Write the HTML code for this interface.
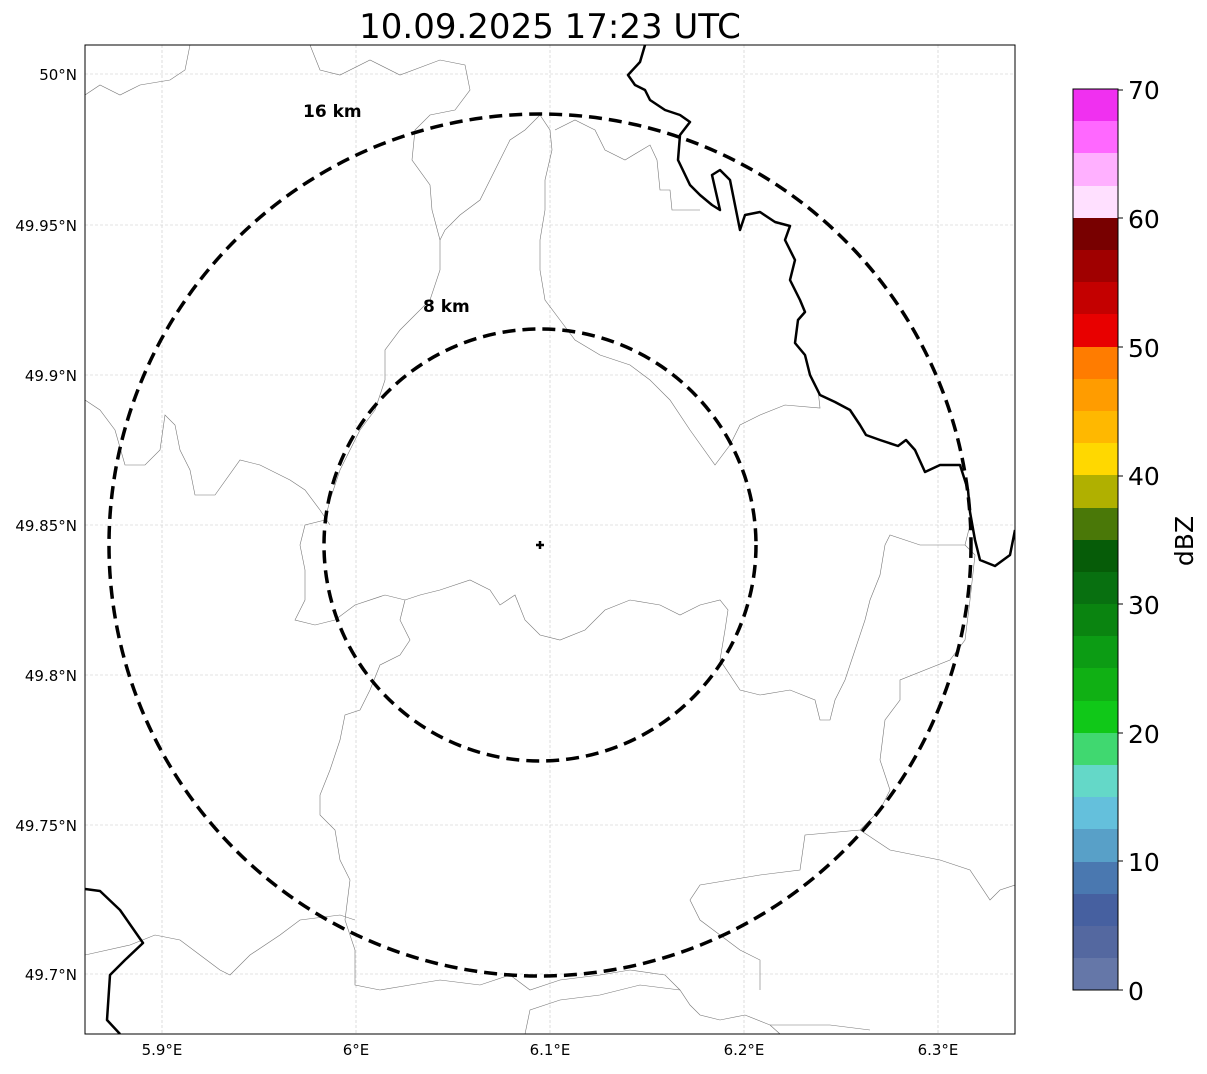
<!DOCTYPE html>
<html><head><style>
body{margin:0;background:#fff;}
svg text{font-family:"DejaVu Sans","Liberation Sans",sans-serif;}
</style></head><body>
<svg width="1207" height="1069" viewBox="0 0 1207 1069" xmlns="http://www.w3.org/2000/svg">
<rect width="1207" height="1069" fill="#fff"/>
<text x="550" y="38" font-size="34" text-anchor="middle">10.09.2025 17:23 UTC</text>
<defs><clipPath id="c"><rect x="85" y="45" width="930" height="989"/></clipPath></defs>
<g clip-path="url(#c)">
<g stroke="#c8c8c8" stroke-width="0.6" stroke-dasharray="3,2">
<line x1="162" y1="45" x2="162" y2="1034"/><line x1="356" y1="45" x2="356" y2="1034"/><line x1="550" y1="45" x2="550" y2="1034"/><line x1="744" y1="45" x2="744" y2="1034"/><line x1="938" y1="45" x2="938" y2="1034"/>
<line x1="85" y1="74" x2="1015" y2="74"/><line x1="85" y1="225" x2="1015" y2="225"/><line x1="85" y1="375" x2="1015" y2="375"/><line x1="85" y1="525" x2="1015" y2="525"/><line x1="85" y1="675" x2="1015" y2="675"/><line x1="85" y1="825" x2="1015" y2="825"/><line x1="85" y1="974" x2="1015" y2="974"/>
</g>
<g fill="none" stroke="#777" stroke-width="0.6">
<polyline points="85,95 100,85 120,95 140,85 170,80 185,70 190,45"/>
<polyline points="310,45 320,70 340,75 370,60 400,75 440,60 465,65 470,90 455,110 430,115 415,130 412,160 430,185 432,210 440,240 440,270 430,300 400,330 385,350 385,380 375,410 360,430 340,470 330,500 325,520 305,525 300,545 305,570 305,600 295,620 315,625 335,620 355,605 385,595 405,600 420,595 440,590 470,580 490,590 500,605 515,595 525,620 540,635 560,640 585,630 605,610 630,600 660,605 680,615 700,605 720,600 728,610 725,630 720,660 740,690 760,695 790,690 815,700 820,720 830,720 835,700 845,680 855,650 865,620 870,600 880,575 885,545 890,535 920,545 965,545 970,525"/>
<polyline points="540,115 525,130 510,140 500,160 490,180 480,200 460,215 445,230 440,240"/>
<polyline points="540,115 550,130 552,150 545,180 545,210 540,240 540,270 545,300 560,320 575,340 600,355 630,365 650,380 670,400 690,430 715,465 730,445 740,425 760,415 785,405 820,408 818,390"/>
<polyline points="555,130 575,120 595,130 605,150 625,160 650,145 657,160 660,190 670,190 672,210 700,210"/>
<polyline points="85,400 100,410 115,430 125,465 145,465 160,450 165,415 175,425 180,450 190,470 195,495 215,495 240,460 260,465 290,480 305,490 320,510 330,525"/>
<polyline points="405,600 400,620 410,640 400,655 380,665 370,690 360,710 345,715 340,740 330,770 320,795 320,815 335,830 340,860 350,880 345,920 355,950 355,985 380,990 410,985 440,980 480,985 510,975 530,990 560,980 600,975 630,970 665,975 680,990 690,1005 700,1015 720,1020 745,1015 770,1025 800,1025 830,1025 870,1030"/>
<polyline points="85,955 130,945 155,935 180,940 200,955 220,970 230,975 250,955 280,935 300,920 340,915 355,920"/>
<polyline points="525,1034 530,1010 560,1000 600,995 640,985 680,990"/>
<polyline points="965,545 975,555 970,600 965,640 950,660 900,680 900,700 885,720 880,760 890,790 880,810 860,830 805,835 800,870 760,875 730,880 700,885 690,900 700,920 720,935 740,950 760,960 760,990"/>
<polyline points="860,830 890,850 940,860 970,870 990,900 1000,890 1015,885"/>
<polyline points="770,1025 780,1034"/>
</g>
<g fill="none" stroke="#000" stroke-width="2.5" stroke-linejoin="round">
<polyline points="645,45 640,62 628,75 635,85 645,90 650,100 665,110 680,115 690,122 680,135 678,160 690,185 700,195 712,205 720,210 712,175 720,170 730,180 735,205 740,230 745,215 760,212 775,222 790,226 785,240 795,260 790,280 800,300 805,312 798,320 795,343 805,355 810,375 820,395 835,402 850,410 860,425 866,435 880,440 898,446 906,440 915,450 925,472 940,465 960,465 968,490 970,512 975,540 980,560 995,566 1010,555 1015,530"/>
<polyline points="85,889 100,891 120,910 143,943 125,960 110,975 107,1020 120,1034"/>
</g>
<circle cx="540" cy="545" r="431" fill="none" stroke="#000" stroke-width="3.5" stroke-dasharray="13,7"/>
<circle cx="540" cy="545" r="216" fill="none" stroke="#000" stroke-width="3.5" stroke-dasharray="13,7"/>
<path d="M536 545H544M540 541V549" stroke="#000" stroke-width="2.5"/>
</g>
<rect x="85" y="45" width="930" height="989" fill="none" stroke="#000" stroke-width="1"/>
<text x="303" y="117" font-size="17" font-weight="bold">16 km</text>
<text x="423" y="312" font-size="17" font-weight="bold">8 km</text>
<g font-size="15" text-anchor="end">
<text x="77" y="80">50°N</text><text x="77" y="231">49.95°N</text><text x="77" y="381">49.9°N</text><text x="77" y="531">49.85°N</text><text x="77" y="681">49.8°N</text><text x="77" y="831">49.75°N</text><text x="77" y="980">49.7°N</text>
</g>
<g font-size="15" text-anchor="middle">
<text x="162" y="1055">5.9°E</text><text x="356" y="1055">6°E</text><text x="550" y="1055">6.1°E</text><text x="744" y="1055">6.2°E</text><text x="938" y="1055">6.3°E</text>
</g>
<g>
<rect x="1073" y="89" width="45" height="33" fill="#f030f0"/>
<rect x="1073" y="121" width="45" height="33" fill="#ff68ff"/>
<rect x="1073" y="153" width="45" height="33" fill="#ffb0ff"/>
<rect x="1073" y="186" width="45" height="33" fill="#ffe0ff"/>
<rect x="1073" y="218" width="45" height="33" fill="#780000"/>
<rect x="1073" y="250" width="45" height="33" fill="#a00000"/>
<rect x="1073" y="282" width="45" height="33" fill="#c40000"/>
<rect x="1073" y="314" width="45" height="33" fill="#e80000"/>
<rect x="1073" y="347" width="45" height="33" fill="#ff7c00"/>
<rect x="1073" y="379" width="45" height="33" fill="#ff9c00"/>
<rect x="1073" y="411" width="45" height="33" fill="#ffb800"/>
<rect x="1073" y="443" width="45" height="33" fill="#ffd800"/>
<rect x="1073" y="475" width="45" height="33" fill="#b0b000"/>
<rect x="1073" y="508" width="45" height="33" fill="#4a7808"/>
<rect x="1073" y="540" width="45" height="33" fill="#065c08"/>
<rect x="1073" y="572" width="45" height="33" fill="#087010"/>
<rect x="1073" y="604" width="45" height="33" fill="#0a8410"/>
<rect x="1073" y="636" width="45" height="33" fill="#0c9c14"/>
<rect x="1073" y="668" width="45" height="33" fill="#10b014"/>
<rect x="1073" y="701" width="45" height="33" fill="#10c818"/>
<rect x="1073" y="733" width="45" height="33" fill="#40d870"/>
<rect x="1073" y="765" width="45" height="33" fill="#64d8c8"/>
<rect x="1073" y="797" width="45" height="33" fill="#64c0dc"/>
<rect x="1073" y="829" width="45" height="33" fill="#58a0c8"/>
<rect x="1073" y="862" width="45" height="33" fill="#4a78b0"/>
<rect x="1073" y="894" width="45" height="33" fill="#4660a0"/>
<rect x="1073" y="926" width="45" height="33" fill="#5468a0"/>
<rect x="1073" y="958" width="45" height="32" fill="#6577a8"/>
<rect x="1073" y="89" width="45" height="901" fill="none" stroke="#000" stroke-width="1"/>
</g>
<g font-size="25">
<text x="1128" y="99">70</text><text x="1128" y="228">60</text><text x="1128" y="357">50</text><text x="1128" y="485">40</text><text x="1128" y="614">30</text><text x="1128" y="743">20</text><text x="1128" y="871">10</text><text x="1128" y="1000">0</text>
</g>
<g stroke="#000"><line x1="1118" y1="90" x2="1123" y2="90"/><line x1="1118" y1="218" x2="1123" y2="218"/><line x1="1118" y1="347" x2="1123" y2="347"/><line x1="1118" y1="476" x2="1123" y2="476"/><line x1="1118" y1="604" x2="1123" y2="604"/><line x1="1118" y1="733" x2="1123" y2="733"/><line x1="1118" y1="861" x2="1123" y2="861"/><line x1="1118" y1="990" x2="1123" y2="990"/></g>
<text transform="translate(1193,541) rotate(-90)" font-size="25" text-anchor="middle">dBZ</text>
</svg>
</body></html>
